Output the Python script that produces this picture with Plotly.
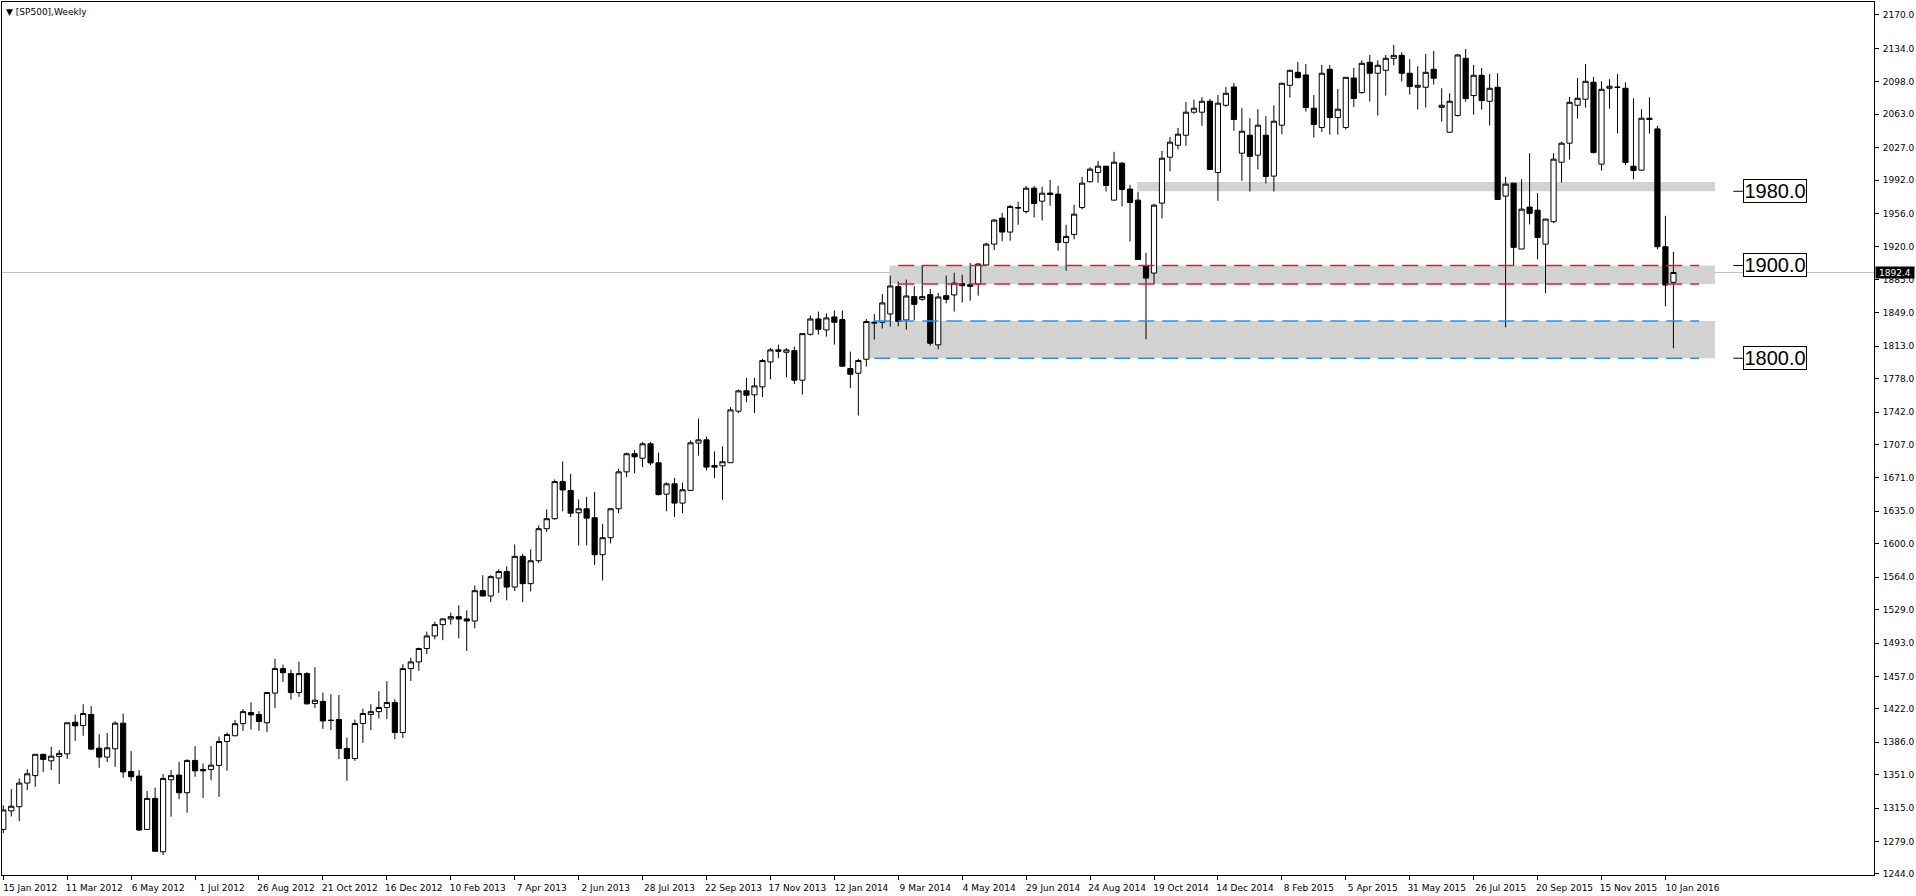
import pandas as pd
import plotly.graph_objects as go

# weekly SP500 candles, week starting 15 Jan 2012
opens = [1292, 1312, 1316.5, 1342, 1350, 1373, 1366, 1370.7, 1373.5, 1407.6,
         1404, 1416, 1379.6, 1370, 1379, 1406.6, 1354.5, 1349.5, 1292, 1325.5,
         1268, 1345.6, 1350.6, 1331.6, 1366.4, 1356.7, 1356.7, 1361, 1386.8, 1393,
         1406, 1418, 1415.9, 1407, 1439, 1465.4, 1460, 1439.6, 1460, 1427.7,
         1430, 1409.8, 1410.5, 1379.3, 1368.5, 1406.2, 1415.9, 1419, 1423.4, 1428.8,
         1396.5, 1465.4, 1472.6, 1487, 1500.6, 1512.8, 1518.9, 1521.4, 1519, 1516.7,
         1549.4, 1543.7, 1563, 1570, 1553.3, 1586.4, 1557, 1581.7, 1616.2, 1627,
         1667, 1657.4, 1633.4, 1637.7, 1628, 1588.2, 1606.5, 1637.7, 1677.5, 1697,
         1692.2, 1707.7, 1687.2, 1653.5, 1664.6, 1643.8, 1657.5, 1708.5, 1712, 1684.4,
         1684, 1687.3, 1742.9, 1764.8, 1760.5, 1769.1, 1796, 1809, 1806.4, 1808.2,
         1776.3, 1825.8, 1842.3, 1830.5, 1844.5, 1841.6, 1788.8, 1783.8, 1798.9, 1837.8,
         1838.7, 1847.7, 1877.2, 1841.2, 1866.4, 1863.5, 1868.5, 1814.4, 1867.4, 1868.2,
         1880.4, 1879.3, 1880, 1900.5, 1923, 1951, 1936, 1961.8, 1958.2, 1983.3,
         1969.3, 1978, 1976.9, 1924.8, 1933.5, 1962.5, 1990.2, 2000.2, 2007, 1970.4,
         2010.2, 1982.3, 1970.4, 1899.3, 1891.8, 1967.2, 2016.7, 2029.6, 2040.4, 2065.2,
         2065.2, 2077, 2000.2, 2072.7, 2092.4, 2021, 2040.4, 2018.9, 2040.4, 1996.3,
         2051.2, 2094.2, 2108.2, 2105.4, 2069.5, 2048.7, 2111.5, 2059.5, 2048.7, 2102.1,
         2086.3, 2119, 2107.2, 2110.4, 2123.3, 2126.5, 2107.2, 2092.1, 2092.1, 2111.5,
         2070.5, 2043.6, 2061.6, 2123.3, 2083.1, 2105, 2077, 2092.1, 1974.7, 1988.7,
         1917.7, 1962.9, 1959.6, 1923, 1947.1, 2011.3, 2031.8, 2072.7, 2079.2, 2097.5,
         2009.2, 2091, 2092.3, 2091, 2007, 2002.7, 2058.7, 2047.2, 1920.2, 1881.8]
highs = [1318, 1335.5, 1347, 1357, 1373, 1373.5, 1381, 1377.5, 1407, 1416,
         1427, 1425, 1394.7, 1396, 1408.7, 1417, 1376.4, 1356, 1333.4, 1337,
         1351.7, 1356, 1365, 1367.8, 1381.8, 1363, 1381.8, 1392, 1396.5, 1410,
         1421.6, 1429, 1419.5, 1440, 1476, 1469.7, 1464.3, 1473, 1461.5, 1467,
         1439.6, 1437.8, 1437, 1391, 1410.5, 1422.3, 1427, 1441, 1451.8, 1432.4,
         1470, 1477.3, 1488, 1505.3, 1516, 1519.5, 1525.7, 1533.6, 1528.2, 1555,
         1566, 1566, 1572.4, 1575.6, 1599.3, 1589.2, 1594, 1619.7, 1637, 1669.3,
         1688.7, 1675.4, 1647.7, 1650.6, 1656, 1621.5, 1638, 1680.8, 1698.3, 1701.2,
         1709.8, 1709.8, 1698.3, 1666, 1671, 1666, 1711.3, 1735, 1715.6, 1699.5,
         1705, 1747.2, 1766.2, 1778.8, 1778.8, 1799.3, 1811, 1814.7, 1811, 1812.5,
         1827, 1846, 1850.2, 1848.4, 1851.3, 1851.3, 1807.1, 1799.6, 1842.3, 1847.7,
         1869.2, 1889, 1882.9, 1884.7, 1877.5, 1900.5, 1874.6, 1870.3, 1889, 1892.2,
         1890, 1902.6, 1902.6, 1924.5, 1950.3, 1956.8, 1965.4, 1968.8, 1985.8, 1985.8,
         1984.8, 1992.3, 1985.8, 1943.9, 1965.4, 1995.5, 2005.9, 2012.8, 2007.5, 2022.5,
         2011.7, 1986.9, 1979.4, 1913.7, 1966.5, 2023.5, 2038.6, 2048.3, 2076.3, 2078.8,
         2081.3, 2079.5, 2083.8, 2092.4, 2096.7, 2069.5, 2058.7, 2068.4, 2060.9, 2072.7,
         2096.8, 2110.8, 2119.4, 2117.2, 2083.8, 2116.1, 2116.1, 2090.3, 2103.2, 2112.9,
         2121.1, 2126.9, 2121.1, 2126.9, 2137.7, 2129.8, 2122.2, 2114.7, 2128, 2131.2,
         2091, 2085.6, 2128, 2133.4, 2116.1, 2112.9, 2106.4, 2107.2, 1995.5, 1989,
         1993, 2021, 1977.9, 1950.3, 2021, 2033.6, 2081.7, 2102.1, 2117.2, 2103.2,
         2098.5, 2100.7, 2106.4, 2097.5, 2080.2, 2068.4, 2081.3, 2050.5, 1953.5, 1914.8]
lows = [1288, 1306, 1301, 1334.5, 1338, 1354, 1356, 1341, 1368, 1387.5,
        1393, 1377.5, 1358.5, 1364.6, 1359.5, 1347.7, 1344, 1290.3, 1291.5, 1268,
        1264.4, 1305.7, 1324.7, 1310, 1348.8, 1326, 1345, 1327, 1355.2, 1392.5,
        1398.3, 1399.7, 1398.3, 1397, 1423, 1451, 1432, 1435, 1426.7, 1423,
        1400.5, 1399, 1367.8, 1344.5, 1366, 1385.4, 1399, 1411.6, 1411, 1389.3,
        1390.8, 1452, 1463, 1481, 1497, 1496, 1513, 1498, 1484.4, 1508.8,
        1543.2, 1537, 1547, 1539, 1549, 1537, 1548.7, 1579, 1612.6, 1625.8,
        1635, 1628.7, 1598.2, 1598.2, 1577, 1560.5, 1600.4, 1633, 1671.8, 1676,
        1682.6, 1684.7, 1652, 1635, 1628.7, 1633, 1656.8, 1695, 1679, 1670.8,
        1647.4, 1687, 1740.8, 1752.6, 1740.8, 1758, 1777.4, 1800, 1779.5, 1772.3,
        1760.9, 1824.4, 1825.5, 1823.3, 1814.7, 1791, 1767.7, 1738.2, 1791, 1820,
        1832, 1834, 1834.4, 1830.8, 1841.2, 1862, 1813.6, 1809.7, 1859.2, 1850.2,
        1860, 1862, 1867.4, 1900, 1916.6, 1926, 1926.7, 1943.9, 1956, 1951.7,
        1948.5, 1964.3, 1915.9, 1894.3, 1928.1, 1960.4, 1989.4, 1989.1, 1979.7, 1970,
        1963.6, 1925.9, 1906, 1820.4, 1880, 1950.7, 2001.3, 2025, 2028.9, 2063.7,
        2050.5, 2003, 1969.7, 2070.9, 2045.1, 1991.2, 1979.7, 2003.5, 1988.4, 1979.7,
        2041.5, 2081, 2101.4, 2065.9, 2037.9, 2044, 2041.1, 2041.1, 2046.5, 2070.9,
        2085.3, 2076.6, 2061.6, 2083.1, 2115.8, 2098.2, 2084.2, 2068, 2070.2, 2095,
        2055.1, 2043.3, 2060.5, 2076.6, 2062.6, 2068, 2050.8, 1970.8, 1833.3, 1900.5,
        1917.5, 1944.2, 1906.5, 1869.9, 1945.7, 1989.4, 2014.2, 2058.3, 2070.2, 2020.7,
        2002.4, 2069.1, 2042.2, 2008.1, 1992.7, 2002.5, 2042.2, 1917.3, 1855.9, 1810.7]
closes = [1313, 1317, 1342, 1352, 1373, 1367.5, 1371, 1374, 1407, 1403.7,
          1417, 1378.6, 1370, 1380, 1406.6, 1354, 1348.8, 1291.4, 1325.5, 1268.5,
          1347, 1350, 1331.6, 1366.4, 1355.2, 1355.2, 1361.3, 1386.8, 1394.4, 1406,
          1419, 1415.5, 1408.4, 1439.6, 1465.4, 1461, 1439.6, 1460, 1427.4, 1431.3,
          1409, 1409.5, 1379.3, 1368.5, 1406.2, 1417, 1419, 1423.4, 1428.8, 1396.5,
          1465.4, 1472.6, 1487, 1500.6, 1512.8, 1519, 1521.4, 1518.9, 1516.7, 1549.4,
          1543.7, 1564.5, 1570, 1553.3, 1586.4, 1557, 1581.7, 1616.2, 1627, 1667,
          1658, 1633, 1637.7, 1627.6, 1588.2, 1606.5, 1637.7, 1677.5, 1697, 1693.7,
          1707.7, 1687.2, 1653, 1664.6, 1643.8, 1658.2, 1708.8, 1712, 1682.6, 1682.6,
          1688.4, 1744.3, 1764.8, 1760.1, 1770.2, 1797.5, 1809, 1807.5, 1809, 1776.3,
          1826.5, 1842.3, 1831.2, 1843.4, 1838.7, 1791.4, 1782.7, 1797.5, 1839.5, 1838.6,
          1859.6, 1877.9, 1839.8, 1867.1, 1858.1, 1866.4, 1816.1, 1866, 1863.5, 1881,
          1878.2, 1877.5, 1901.5, 1923, 1948.9, 1936, 1963.6, 1962.3, 1983.3, 1966.8,
          1977.9, 1976.5, 1924.8, 1931.3, 1955.3, 1988.7, 2003.8, 2007, 1986.2, 2011.3,
          1981.9, 1967.9, 1906.5, 1886.4, 1965, 2015.6, 2032.9, 2041.5, 2065.2, 2069.5,
          2077, 2003.5, 2074.9, 2085.6, 2057.3, 2044.7, 2017.5, 2051.2, 1995.9, 2055.5,
          2096.4, 2110.4, 2102.5, 2070.2, 2051.9, 2107.2, 2059.5, 2068.4, 2102.8, 2079.9,
          2117.9, 2107.2, 2115.8, 2123.3, 2126.5, 2107.2, 2092.8, 2094.2, 2108.2, 2101.8,
          2072.7, 2077, 2126.9, 2079.9, 2105, 2077.7, 2091, 1971.1, 1987.6, 1919.5,
          1960.7, 1956.1, 1930.2, 1950, 2014.6, 2031.8, 2075.9, 2080.2, 2098.5, 2021.7,
          2089.9, 2093.2, 2092, 2011, 2002.4, 2058.7, 2057.3, 1920.2, 1878.9, 1892.4]

first_week = "2012-01-15"
last_price = 1892.4

# price axis labels as printed on the chart
price_ticks = [2170, 2134, 2098, 2063, 2027, 1992, 1956, 1920, 1885, 1849, 1813,
               1778, 1742, 1707, 1671, 1635, 1600, 1564, 1529, 1493, 1457, 1422,
               1386, 1351, 1315, 1279, 1244]

# drawn zones (low, high) and the labelled levels
zone_low = [1800, 1880, 1980]
zone_high = [1840, 1900, 1990]
zone_start = [108.2, 110.9, 141.9]   # in weeks from first candle
red_lines = [1900, 1880]
blue_lines = [1840, 1800]
label_levels = [1980.0, 1900.0, 1800.0]

dates = pd.date_range(first_week, periods=len(closes), freq="7D")
t0 = pd.Timestamp(first_week)


def wk(n):
    return t0 + pd.Timedelta(days=7 * n)


fig = go.Figure(go.Candlestick(
    x=dates, open=opens, high=highs, low=lows, close=closes,
    increasing=dict(line=dict(color="black", width=1), fillcolor="white"),
    decreasing=dict(line=dict(color="black", width=1), fillcolor="black"),
    whiskerwidth=0, showlegend=False, hoverinfo="x+y",
))

zone_end = wk(214.2)
line_end = wk(212.2)
for lo, hi, st in zip(zone_low, zone_high, zone_start):
    fig.add_shape(type="rect", xref="x", yref="y", x0=wk(st), x1=zone_end,
                  y0=lo, y1=hi, fillcolor="#d3d3d3", line_width=0, layer="below")

# current price line
fig.add_shape(type="line", xref="paper", yref="y", x0=0, x1=1,
              y0=last_price, y1=last_price,
              line=dict(color="#c0c0c0", width=1), layer="below")

for lv in red_lines:
    fig.add_shape(type="line", xref="x", yref="y", x0=wk(112), x1=line_end,
                  y0=lv, y1=lv, line=dict(color="#e8173c", width=1.5, dash="16px,8px"))
for lv in blue_lines:
    fig.add_shape(type="line", xref="x", yref="y", x0=wk(109), x1=line_end,
                  y0=lv, y1=lv, line=dict(color="#2a8ef0", width=1.5, dash="16px,8px"))

for lv in label_levels:
    fig.add_shape(type="line", xref="x", yref="y", x0=wk(216.5), x1=wk(217.7),
                  y0=lv, y1=lv, line=dict(color="black", width=1))
    fig.add_annotation(x=wk(217.7), y=lv, xref="x", yref="y", text=f"{lv:.1f}",
                       showarrow=False, xanchor="left", yanchor="middle",
                       width=62, height=22, borderpad=0, borderwidth=1,
                       bordercolor="black", bgcolor="white",
                       font=dict(family="Liberation Sans, Arial, sans-serif",
                                 size=20, color="black"))

# last price tag on the axis
fig.add_annotation(x=1, y=last_price, xref="paper", yref="y", text=f"{last_price:.1f}",
                   showarrow=False, xanchor="left", yanchor="middle", xshift=1,
                   width=38, height=11, borderpad=0, bgcolor="black",
                   font=dict(color="white", size=9, family="DejaVu Sans"))

fig.add_annotation(x=0, y=1, xref="paper", yref="paper", text="▼ [SP500],Weekly",
                   showarrow=False, xanchor="left", yanchor="top", xshift=2, yshift=-3,
                   font=dict(size=9, family="DejaVu Sans", color="black"))

fig.update_layout(
    width=1916, height=896,
    margin=dict(l=2, r=40, t=1, b=21),
    paper_bgcolor="white", plot_bgcolor="white",
    font=dict(family="DejaVu Sans", size=9, color="black"),
    boxgap=0.35, boxgroupgap=0,
    showlegend=False,
)
fig.update_xaxes(
    type="date", range=[wk(-0.16), wk(234.1)],
    rangeslider_visible=False, showgrid=False, zeroline=False,
    showline=True, linecolor="black", linewidth=1, mirror=True,
    tickvals=dates[::8], tickformat="%-d %b %Y",
    ticks="outside", ticklen=4, tickcolor="black", ticklabelshift=27,
)
fig.update_yaxes(
    side="right", range=[1242.9, 2184.0],
    showgrid=False, zeroline=False,
    showline=True, linecolor="black", linewidth=1, mirror=True,
    tickvals=price_ticks, tickformat=".1f",
    ticks="outside", ticklen=4, tickcolor="black", ticklabelstandoff=2,
)

# page margin off so the figure fills the window
fig.write_html("out.html", config={"displayModeBar": False},
               post_script="document.body.style.margin='0';document.body.style.overflow='hidden';")
